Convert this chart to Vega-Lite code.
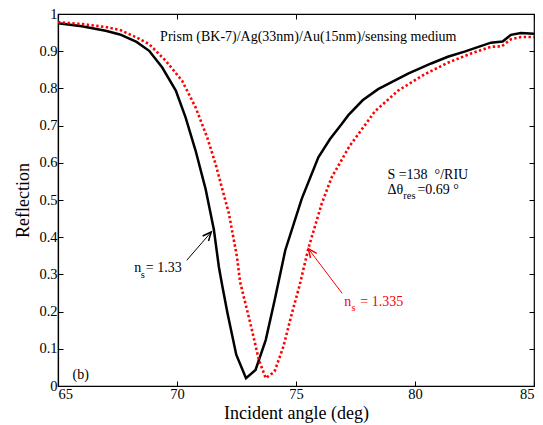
{
  "$schema": "https://vega.github.io/schema/vega-lite/v6.json",
  "autosize": "none",
  "padding": {"left": 58, "top": 14, "right": 9, "bottom": 39},
  "width": 476,
  "height": 372,
  "background": "white",
  "config": {
    "view": {"stroke": "black", "strokeWidth": 1.2},
    "font": "Liberation Serif",
    "axis": {
      "domainColor": "black", "tickColor": "black", "labelColor": "black", "titleColor": "black",
      "labelFont": "Liberation Serif", "titleFont": "Liberation Serif",
      "labelFontSize": 14.5, "titleFontSize": 18, "titleFontWeight": "normal",
      "grid": false, "tickSize": -5, "labelPadding": 6, "domainWidth": 1.2, "tickWidth": 1
    }
  },
  "datasets": {
    "curves": [
      {"angle": 65, "R": 0.975, "series": "ns = 1.33"},
      {"angle": 66, "R": 0.967, "series": "ns = 1.33"},
      {"angle": 67, "R": 0.955, "series": "ns = 1.33"},
      {"angle": 67.6, "R": 0.945, "series": "ns = 1.33"},
      {"angle": 68.3, "R": 0.925, "series": "ns = 1.33"},
      {"angle": 68.83, "R": 0.901, "series": "ns = 1.33"},
      {"angle": 69.38, "R": 0.856, "series": "ns = 1.33"},
      {"angle": 69.95, "R": 0.794, "series": "ns = 1.33"},
      {"angle": 70.36, "R": 0.722, "series": "ns = 1.33"},
      {"angle": 70.78, "R": 0.633, "series": "ns = 1.33"},
      {"angle": 71.2, "R": 0.53, "series": "ns = 1.33"},
      {"angle": 71.55, "R": 0.42, "series": "ns = 1.33"},
      {"angle": 71.76, "R": 0.32, "series": "ns = 1.33"},
      {"angle": 71.9, "R": 0.27, "series": "ns = 1.33"},
      {"angle": 72.12, "R": 0.196, "series": "ns = 1.33"},
      {"angle": 72.49, "R": 0.084, "series": "ns = 1.33"},
      {"angle": 72.9, "R": 0.021, "series": "ns = 1.33"},
      {"angle": 73.3, "R": 0.043, "series": "ns = 1.33"},
      {"angle": 73.73, "R": 0.124, "series": "ns = 1.33"},
      {"angle": 74.1, "R": 0.23, "series": "ns = 1.33"},
      {"angle": 74.55, "R": 0.365, "series": "ns = 1.33"},
      {"angle": 75.24, "R": 0.503, "series": "ns = 1.33"},
      {"angle": 75.94, "R": 0.615, "series": "ns = 1.33"},
      {"angle": 76.43, "R": 0.664, "series": "ns = 1.33"},
      {"angle": 76.92, "R": 0.704, "series": "ns = 1.33"},
      {"angle": 77.2, "R": 0.728, "series": "ns = 1.33"},
      {"angle": 77.8, "R": 0.768, "series": "ns = 1.33"},
      {"angle": 78.45, "R": 0.798, "series": "ns = 1.33"},
      {"angle": 79.71, "R": 0.84, "series": "ns = 1.33"},
      {"angle": 80.68, "R": 0.867, "series": "ns = 1.33"},
      {"angle": 81.38, "R": 0.885, "series": "ns = 1.33"},
      {"angle": 82.08, "R": 0.899, "series": "ns = 1.33"},
      {"angle": 83.19, "R": 0.923, "series": "ns = 1.33"},
      {"angle": 83.68, "R": 0.926, "series": "ns = 1.33"},
      {"angle": 84.03, "R": 0.944, "series": "ns = 1.33"},
      {"angle": 84.45, "R": 0.949, "series": "ns = 1.33"},
      {"angle": 85, "R": 0.947, "series": "ns = 1.33"},
      {"angle": 65, "R": 0.978, "series": "ns = 1.335"},
      {"angle": 66, "R": 0.973, "series": "ns = 1.335"},
      {"angle": 67, "R": 0.965, "series": "ns = 1.335"},
      {"angle": 67.65, "R": 0.956, "series": "ns = 1.335"},
      {"angle": 68.3, "R": 0.937, "series": "ns = 1.335"},
      {"angle": 68.83, "R": 0.919, "series": "ns = 1.335"},
      {"angle": 69.53, "R": 0.874, "series": "ns = 1.335"},
      {"angle": 70.22, "R": 0.82, "series": "ns = 1.335"},
      {"angle": 70.78, "R": 0.749, "series": "ns = 1.335"},
      {"angle": 71.27, "R": 0.668, "series": "ns = 1.335"},
      {"angle": 71.62, "R": 0.597, "series": "ns = 1.335"},
      {"angle": 71.9, "R": 0.53, "series": "ns = 1.335"},
      {"angle": 72.18, "R": 0.464, "series": "ns = 1.335"},
      {"angle": 72.52, "R": 0.347, "series": "ns = 1.335"},
      {"angle": 72.65, "R": 0.28, "series": "ns = 1.335"},
      {"angle": 73.08, "R": 0.169, "series": "ns = 1.335"},
      {"angle": 73.44, "R": 0.07, "series": "ns = 1.335"},
      {"angle": 73.73, "R": 0.021, "series": "ns = 1.335"},
      {"angle": 74.1, "R": 0.039, "series": "ns = 1.335"},
      {"angle": 74.47, "R": 0.106, "series": "ns = 1.335"},
      {"angle": 74.83, "R": 0.196, "series": "ns = 1.335"},
      {"angle": 75.15, "R": 0.27, "series": "ns = 1.335"},
      {"angle": 75.52, "R": 0.37, "series": "ns = 1.335"},
      {"angle": 76.08, "R": 0.49, "series": "ns = 1.335"},
      {"angle": 76.5, "R": 0.561, "series": "ns = 1.335"},
      {"angle": 77.25, "R": 0.645, "series": "ns = 1.335"},
      {"angle": 78.03, "R": 0.713, "series": "ns = 1.335"},
      {"angle": 78.31, "R": 0.738, "series": "ns = 1.335"},
      {"angle": 79.29, "R": 0.794, "series": "ns = 1.335"},
      {"angle": 80.41, "R": 0.838, "series": "ns = 1.335"},
      {"angle": 81.38, "R": 0.869, "series": "ns = 1.335"},
      {"angle": 82.36, "R": 0.894, "series": "ns = 1.335"},
      {"angle": 83.19, "R": 0.912, "series": "ns = 1.335"},
      {"angle": 83.64, "R": 0.913, "series": "ns = 1.335"},
      {"angle": 84.03, "R": 0.932, "series": "ns = 1.335"},
      {"angle": 84.45, "R": 0.938, "series": "ns = 1.335"},
      {"angle": 85, "R": 0.938, "series": "ns = 1.335"}
    ],
    "arrows": [
      {"x1": 70.41, "y1": 0.338, "x2": 71.44, "y2": 0.414, "series": "ns = 1.33", "dir": 41},
      {"x1": 76.94, "y1": 0.249, "x2": 75.52, "y2": 0.369, "series": "ns = 1.335", "dir": 323}
    ],
    "labels": [
      {"angle": 69.29, "R": 0.928, "text": "Prism (BK-7)/Ag(33nm)/Au(15nm)/sensing medium", "kind": "main", "series": "ns = 1.33"},
      {"angle": 78.84, "R": 0.557, "text": "S =138 \u00a0°/RIU", "kind": "main", "series": "ns = 1.33"},
      {"angle": 78.84, "R": 0.517, "text": "Δθ", "kind": "main", "series": "ns = 1.33"},
      {"angle": 79.51, "R": 0.503, "text": "res", "kind": "sub", "series": "ns = 1.33"},
      {"angle": 80.1, "R": 0.517, "text": "=0.69 °", "kind": "main", "series": "ns = 1.33"},
      {"angle": 65.61, "R": 0.018, "text": "(b)", "kind": "main", "series": "ns = 1.33"},
      {"angle": 68.2, "R": 0.307, "text": "n", "kind": "main", "series": "ns = 1.33"},
      {"angle": 68.48, "R": 0.29, "text": "s", "kind": "sub", "series": "ns = 1.33"},
      {"angle": 68.69, "R": 0.307, "text": "= 1.33", "kind": "main", "series": "ns = 1.33"},
      {"angle": 77.03, "R": 0.2145, "text": "n", "kind": "main", "series": "ns = 1.335"},
      {"angle": 77.33, "R": 0.202, "text": "s", "kind": "sub", "series": "ns = 1.335"},
      {"angle": 77.7, "R": 0.2145, "text": "= 1.335", "kind": "main", "series": "ns = 1.335"}
    ]
  },
  "layer": [
    {
      "data": {"name": "curves"},
      "transform": [{"filter": "datum.series === 'ns = 1.33'"}],
      "mark": {"type": "line", "color": "black", "strokeWidth": 2.5, "clip": true},
      "encoding": {
        "x": {"field": "angle", "type": "quantitative",
              "scale": {"domain": [65, 85], "nice": false, "zero": false},
              "axis": {"orient": "bottom", "title": "Incident angle (deg)", "values": [65, 70, 75, 80, 85], "format": "~g", "titlePadding": 4, "labelFont": "Liberation Serif", "titleFont": "Liberation Serif", "tickSize": -5}},
        "y": {"field": "R", "type": "quantitative",
              "scale": {"domain": [0, 1], "nice": false},
              "axis": {"orient": "left", "title": "Reflection", "values": [0, 0.1, 0.2, 0.3, 0.4, 0.5, 0.6, 0.7, 0.8, 0.9, 1], "format": "~g", "titlePadding": 6, "labelFont": "Liberation Serif", "titleFont": "Liberation Serif", "tickSize": -5}}
      }
    },
    {
      "data": {"name": "curves"},
      "transform": [{"filter": "datum.series === 'ns = 1.335'"}],
      "mark": {"type": "line", "color": "#ff0000", "strokeWidth": 2.6, "strokeDash": [2.4, 2.4], "strokeCap": "butt", "clip": true},
      "encoding": {
        "x": {"field": "angle", "type": "quantitative",
              "axis": {"orient": "top", "labels": false, "title": null, "values": [65, 70, 75, 80, 85], "domain": false, "tickSize": -5}},
        "y": {"field": "R", "type": "quantitative",
              "axis": {"orient": "right", "labels": false, "title": null, "values": [0, 0.1, 0.2, 0.3, 0.4, 0.5, 0.6, 0.7, 0.8, 0.9, 1], "domain": false, "tickSize": -5}}
      }
    },
    {
      "data": {"name": "arrows"},
      "mark": {"type": "rule", "strokeWidth": 1},
      "encoding": {
        "x": {"field": "x1", "type": "quantitative", "axis": null},
        "y": {"field": "y1", "type": "quantitative", "axis": null},
        "x2": {"field": "x2"},
        "y2": {"field": "y2"},
        "color": {"field": "series", "type": "nominal", "scale": {"domain": ["ns = 1.33", "ns = 1.335"], "range": ["black", "#ff0000"]}, "legend": null}
      }
    },
    {
      "data": {"name": "arrows"},
      "mark": {"type": "point", "shape": "M-0.45,1 L0,0 L0.45,1", "filled": false, "strokeWidth": 1.5, "size": 300, "opacity": 1},
      "encoding": {
        "x": {"field": "x2", "type": "quantitative", "axis": null},
        "y": {"field": "y2", "type": "quantitative", "axis": null},
        "angle": {"field": "dir", "type": "quantitative", "scale": null},
        "color": {"field": "series", "type": "nominal", "legend": null}
      }
    },
    {
      "data": {"name": "labels"},
      "transform": [{"filter": "datum.kind === 'main'"}],
      "mark": {"type": "text", "align": "left", "baseline": "alphabetic", "font": "Liberation Serif", "fontSize": 14},
      "encoding": {
        "x": {"field": "angle", "type": "quantitative", "axis": null},
        "y": {"field": "R", "type": "quantitative", "axis": null},
        "text": {"field": "text"},
        "color": {"field": "series", "type": "nominal", "legend": null}
      }
    },
    {
      "data": {"name": "labels"},
      "transform": [{"filter": "datum.kind === 'sub'"}],
      "mark": {"type": "text", "align": "left", "baseline": "alphabetic", "font": "Liberation Serif", "fontSize": 10.5},
      "encoding": {
        "x": {"field": "angle", "type": "quantitative", "axis": null},
        "y": {"field": "R", "type": "quantitative", "axis": null},
        "text": {"field": "text"},
        "color": {"field": "series", "type": "nominal", "legend": null}
      }
    }
  ]
}
